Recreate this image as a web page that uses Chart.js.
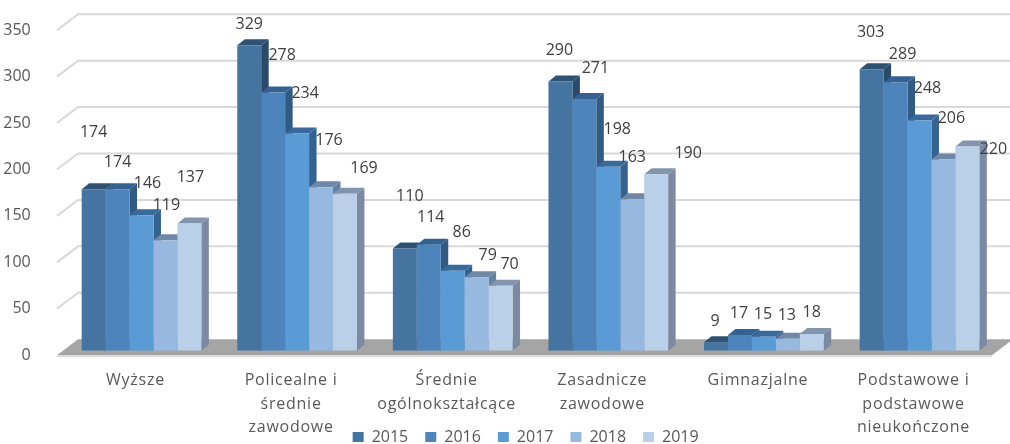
<!DOCTYPE html>
<html><head><meta charset="utf-8">
<style>html,body{margin:0;padding:0;background:#fff;overflow:hidden}canvas{display:block;filter:blur(0.4px)}</style>
<script src="https://cdn.jsdelivr.net/npm/chart.js@4/dist/chart.umd.js"></script>
</head><body><canvas id="c" width="1010" height="444"></canvas>
<script>
const categories=[["Wyższe"],["Policealne i","średnie","zawodowe"],["Średnie","ogólnokształcące"],["Zasadnicze","zawodowe"],["Gimnazjalne"],["Podstawowe i","podstawowe","nieukończone"]];
const years=["2015","2016","2017","2018","2019"];
const v2015=[174,329,110,290,9,303];
const v2016=[174,278,114,271,17,289];
const v2017=[146,234,86,198,15,248];
const v2018=[119,176,79,163,13,206];
const v2019=[137,169,70,190,18,220];
const yTicks=[0,50,100,150,200,250,300,350];

const values=[v2015,v2016,v2017,v2018,v2019];
const frontColors=["#44749f","#4c84bb","#5b9bd5","#98b9df","#bacfe8"];
const topColors=["#2f5272","#356190","#386a9c","#6f88a8","#8394ad"];
const sideColors=["#2b4a69","#315a84","#356390","#66809f","#7b8aa1"];
const labelNudge=[
 [[0,-57],[0,-21],[5,-52],[-1,-31],[-1,-21],[-1,-37]],
 [[0,-27],[9,-37],[2,-27],[11,-31],[-1,-21],[7,-28]],
 [[6,-32],[8,-40],[9,-38],[9,-37],[-1,-22],[8,-32]],
 [[1,-35],[8,-47],[11,-22],[0,-42],[-1,-23],[8,-41]],
 [[1,-46],[19,-25],[9,-21],[32,-21],[0,-22],[26,3]]
];
const FONT='"Open Sans", sans-serif', D={x:7.5,y:6}, WALL={x:21,y:16}, FRONT=4.5;

const scene={id:'scene',
 beforeLayout(c){
   const l=c.legend;
   if(!l._flat){
     const fit=l.fit;
     l.fit=function(){fit.call(this);this.height=0;};
     l._flat=true;
   }
 },
 afterLayout(c){
   const l=c.legend; l.left+=27; l.right+=27; l.top=412; l.bottom=444;
   const x=c.scales.x;
   if(!x._spaced){
     const draw=x.drawLabels;
     x.drawLabels=function(a){c.ctx.letterSpacing='0.75px';draw.call(this,a);c.ctx.letterSpacing='0px';};
     x._spaced=true;
   }
 },
 beforeDatasetsDraw(c){
   const g=c.ctx,y=c.scales.y,left=57,right=992;
   g.save();
   const y0=y.getPixelForValue(0)+FRONT;
   g.fillStyle='#a5a5a5';
   g.beginPath();g.moveTo(left,y0);g.lineTo(right,y0);g.lineTo(right+WALL.x,y0-WALL.y);g.lineTo(left+WALL.x,y0-WALL.y);g.closePath();g.fill();
   g.strokeStyle='#d9d9d9';g.lineWidth=2;
   yTicks.forEach(t=>{
     const p=y.getPixelForValue(t)+FRONT;
     g.beginPath();
     if(t===0){g.moveTo(left,p+1);g.lineTo(right,p+1);}
     else{g.moveTo(left,p);g.lineTo(left+WALL.x,p-WALL.y);g.lineTo(c.width,p-WALL.y);}
     g.stroke();
   });
   const metas=c.getSortedVisibleDatasetMetas();
   categories.forEach((_,i)=>{
     metas.forEach((m,s)=>{
       const b=m.data[i].getProps(['x','y','width','base'],true);
       const l=b.x-b.width/2,r=b.x+b.width/2;
       g.fillStyle=sideColors[s];
       g.beginPath();g.moveTo(r,b.y);g.lineTo(r+D.x,b.y-D.y);g.lineTo(r+D.x,b.base-D.y);g.lineTo(r,b.base);g.closePath();g.fill();
       g.fillStyle=topColors[s];
       g.beginPath();g.moveTo(l,b.y);g.lineTo(l+D.x,b.y-D.y);g.lineTo(r+D.x,b.y-D.y);g.lineTo(r,b.y);g.closePath();g.fill();
     });
   });
   g.restore();
 },
 afterDatasetsDraw(c){
   const g=c.ctx;
   g.save();
   g.font='16px '+FONT;g.fillStyle='#404040';g.textAlign='center';g.textBaseline='middle';
   c.getSortedVisibleDatasetMetas().forEach((m,s)=>{
     m.data.forEach((e,i)=>{
       const n=labelNudge[s][i];
       g.fillText(String(values[s][i]),e.x+n[0],e.y+n[1]);
     });
   });
   g.restore();
 }
};

new Chart(document.getElementById('c'),{
 type:'bar',
 data:{labels:categories,datasets:years.map((yr,s)=>({label:yr,data:values[s],backgroundColor:frontColors[s],borderWidth:0,barPercentage:1,categoryPercentage:0.769}))},
 options:{
  responsive:false,animation:false,
  layout:{padding:{top:25.7,right:12.7,left:0,bottom:0}},
  plugins:{
   tooltip:{enabled:false},
   legend:{position:'bottom',labels:{boxWidth:11,boxHeight:10,padding:17,color:'#595959',font:{family:FONT,size:16}}}
  },
  scales:{
   x:{grid:{display:false},border:{display:false},
      afterFit(s){s.height=93.3;s.paddingLeft=0;s.paddingRight=0;},
      ticks:{autoSkip:false,maxRotation:0,minRotation:0,padding:10,labelOffset:-6,color:'#595959',font:{family:FONT,size:16,lineHeight:1.47}}},
   y:{min:0,max:350,grid:{display:false},border:{display:false},
      afterFit(s){s.width=63.7;s.paddingTop=0;s.paddingBottom=0;},
      afterBuildTicks(s){s.ticks=yTicks.map(v=>({value:v}));},
      ticks:{padding:25,labelOffset:4.5,color:'#595959',font:{family:FONT,size:16}}}
  }
 },
 plugins:[scene]
});
</script></body></html>
